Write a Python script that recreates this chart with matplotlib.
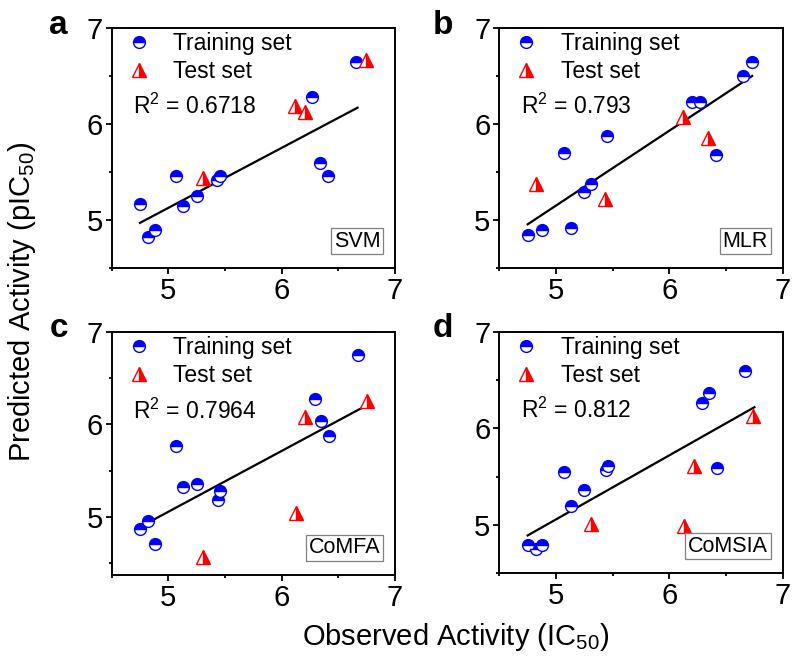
import matplotlib
matplotlib.use('Agg')
import matplotlib.pyplot as plt
from matplotlib.lines import Line2D

plt.rcParams['font.family'] = ['Liberation Sans', 'DejaVu Sans']
plt.rcParams['mathtext.fontset'] = 'custom'
plt.rcParams['mathtext.rm'] = 'Liberation Sans'
plt.rcParams['mathtext.it'] = 'Liberation Sans:italic'

# panel a - SVM
svm_train_x = [4.75, 4.82, 4.88, 5.07, 5.13, 5.25, 5.43, 5.46, 6.27, 6.34, 6.41, 6.66]
svm_train_y = [5.17, 4.82, 4.90, 5.46, 5.15, 5.25, 5.42, 5.46, 6.28, 5.59, 5.46, 6.65]
svm_test_x = [5.31, 6.12, 6.21, 6.74]
svm_test_y = [5.44, 6.19, 6.12, 6.67]
svm_fit_x = [4.75, 6.67]
svm_fit_y = [4.97, 6.17]

# panel b - MLR
mlr_train_x = [4.75, 4.88, 5.07, 5.13, 5.25, 5.31, 5.45, 6.20, 6.27, 6.41, 6.65, 6.73]
mlr_train_y = [4.84, 4.90, 5.70, 4.92, 5.29, 5.37, 5.87, 6.23, 6.23, 5.68, 6.50, 6.65]
mlr_test_x = [4.82, 5.43, 6.12, 6.34]
mlr_test_y = [5.37, 5.22, 6.07, 5.85]
mlr_fit_x = [4.75, 6.73]
mlr_fit_y = [4.955, 6.50]

# panel c - CoMFA
comfa_train_x = [4.75, 4.82, 4.88, 5.07, 5.13, 5.25, 5.44, 5.46, 6.29, 6.35, 6.42, 6.67]
comfa_train_y = [4.87, 4.96, 4.71, 5.77, 5.32, 5.35, 5.18, 5.28, 6.28, 6.04, 5.88, 6.75]
comfa_test_x = [5.31, 6.13, 6.21, 6.75]
comfa_test_y = [4.56, 5.04, 6.08, 6.25]
comfa_fit_x = [4.75, 6.74]
comfa_fit_y = [4.89, 6.20]

# panel d - CoMSIA
comsia_train_x = [4.75, 4.82, 4.88, 5.07, 5.13, 5.25, 5.44, 5.46, 6.29, 6.35, 6.42, 6.67]
comsia_train_y = [4.79, 4.75, 4.79, 5.55, 5.20, 5.36, 5.57, 5.61, 6.26, 6.37, 5.59, 6.60]
comsia_test_x = [5.31, 6.13, 6.22, 6.74]
comsia_test_y = [5.01, 4.99, 5.61, 6.13]
comsia_fit_x = [4.75, 6.75]
comsia_fit_y = [4.89, 6.22]

panels = [
    ('a', 'SVM', '0.6718', svm_train_x, svm_train_y, svm_test_x, svm_test_y, svm_fit_x, svm_fit_y, 4.5),
    ('b', 'MLR', '0.793', mlr_train_x, mlr_train_y, mlr_test_x, mlr_test_y, mlr_fit_x, mlr_fit_y, 4.5),
    ('c', 'CoMFA', '0.7964', comfa_train_x, comfa_train_y, comfa_test_x, comfa_test_y, comfa_fit_x, comfa_fit_y, 4.37),
    ('d', 'CoMSIA', '0.812', comsia_train_x, comsia_train_y, comsia_test_x, comsia_test_y, comsia_fit_x, comsia_fit_y, 4.5),
]

rects = [
    [0.1401, 0.5958, 0.3555, 0.3620],
    [0.6265, 0.5958, 0.3556, 0.3620],
    [0.1401, 0.1327, 0.3555, 0.3665],
    [0.6265, 0.1357, 0.3556, 0.3635],
]
letter_pos = [(0.062, 0.949), (0.543, 0.949), (0.062, 0.491), (0.543, 0.491)]

train_style = dict(marker='o', ms=8.5, ls='none', fillstyle='top', mfc='#0000ff',
                   mfcalt='white', mec='#0000ff', mew=1.0)
test_style = dict(marker='^', ms=9.5, ls='none', fillstyle='right', mfc='#ff0000',
                  mfcalt='white', mec='#ff0000', mew=1.0)

fig = plt.figure(figsize=(7.97, 6.63), dpi=100)

for (letter, method, r2, tx, ty, sx, sy, fx, fy, ybot), rect, lp in zip(panels, rects, letter_pos):
    ax = fig.add_axes(rect)
    ax.plot(fx, fy, color='black', lw=1.6, zorder=2)
    ax.plot(tx, ty, zorder=3, **train_style)
    ax.plot(sx, sy, zorder=3, **test_style)

    ax.set_xlim(4.5, 7)
    ax.set_ylim(ybot, 7)
    ax.set_xticks([5, 6, 7])
    ax.set_yticks([5, 6, 7])
    ax.set_xticks([4.5, 5.5, 6.5], minor=True)
    ax.set_yticks([4.5, 5.5, 6.5], minor=True)
    ax.tick_params(which='major', direction='out', length=4.5, width=1.3,
                   labelsize=21, pad=2)
    ax.tick_params(which='minor', direction='out', length=2.5, width=1.3)
    for s in ax.spines.values():
        s.set_linewidth(1.4)

    handles = [Line2D([], [], **train_style), Line2D([], [], **test_style)]
    ax.legend(handles, ['Training set', 'Test set'], loc='upper left',
              bbox_to_anchor=(0.055, 0.985), frameon=False, fontsize=16.5,
              handlelength=1.0, handletextpad=1.0, labelspacing=0.22,
              borderpad=0, borderaxespad=0)
    ax.text(0.076, 0.675, 'R$^{2}$ = ' + r2, transform=ax.transAxes,
            fontsize=16.5, ha='left', va='center')
    ax.text(0.948, 0.068, method, transform=ax.transAxes, fontsize=15.5,
            ha='right', va='bottom',
            bbox=dict(boxstyle='square,pad=0.12', fc='white', ec='#808080', lw=0.9))

    fig.text(lp[0], lp[1], letter, fontsize=24, fontweight='bold',
             ha='left', va='baseline')

fig.text(0.572, 0.027, 'Observed Activity (IC$_{50}$)', fontsize=21,
         ha='center', va='baseline')
fig.text(0.028, 0.545, 'Predicted Activity (pIC$_{50}$)', fontsize=21,
         rotation=90, ha='center', va='center')

fig.savefig('out.png', dpi=100)
